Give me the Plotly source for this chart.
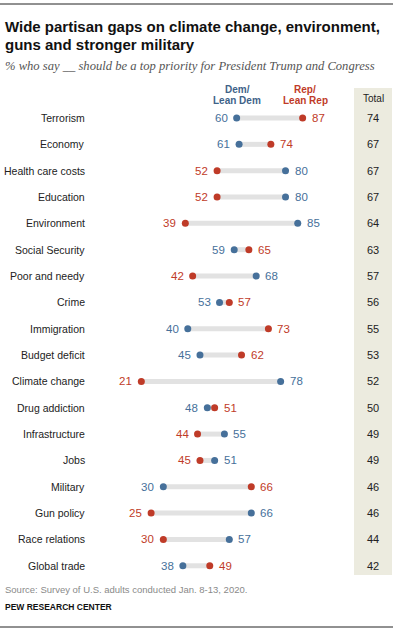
import plotly.graph_objects as go

categories = ["Terrorism", "Economy", "Health care costs", "Education", "Environment",
              "Social Security", "Poor and needy", "Crime", "Immigration", "Budget deficit",
              "Climate change", "Drug addiction", "Infrastructure", "Jobs", "Military",
              "Gun policy", "Race relations", "Global trade"]
dem = [60, 61, 80, 80, 85, 59, 68, 53, 40, 45, 78, 48, 55, 51, 30, 66, 57, 38]
rep = [87, 74, 52, 52, 39, 65, 42, 57, 73, 62, 21, 51, 44, 45, 66, 25, 30, 49]
total = [74, 67, 67, 67, 64, 63, 57, 56, 55, 53, 52, 50, 49, 49, 46, 46, 44, 42]

W, H = 399, 631
BLUE = "#46709a"
RED = "#bf3b28"
GRAY_BAR = "#e2e2e2"
BEIGE = "#ecebdf"
FONT = "Liberation Sans, Arial, sans-serif"

# pixel mapping: value 0 -> px 90, 2.444 px per unit; row 0 -> py 118, 26.34 px per row
PPU = 2.444
X0PX = 90
ROW0 = 118
ROWH = 26.34
xr = [-X0PX / PPU, (W - X0PX) / PPU]
yr = [(H - ROW0) / ROWH, -ROW0 / ROWH]


def px(p):
    return p / W


def py(p):
    return 1 - p / H


rows = list(range(len(categories)))

fig = go.Figure()

# gray connecting bars
bx, by = [], []
for i in rows:
    bx += [dem[i], rep[i], None]
    by += [i, i, None]
fig.add_trace(go.Scatter(x=bx, y=by, mode="lines",
                         line=dict(color=GRAY_BAR, width=5), hoverinfo="skip", showlegend=False))
fig.add_trace(go.Scatter(x=dem, y=rows, mode="markers", name="Dem/Lean Dem",
                         marker=dict(color=BLUE, size=7), showlegend=False))
fig.add_trace(go.Scatter(x=rep, y=rows, mode="markers", name="Rep/Lean Rep",
                         marker=dict(color=RED, size=7), showlegend=False))

ann = []
shapes = []

# total column background
shapes.append(dict(type="rect", xref="paper", yref="paper",
                   x0=px(354), x1=px(392), y0=py(575), y1=py(88),
                   fillcolor=BEIGE, line=dict(width=0), layer="below"))
# rules
shapes.append(dict(type="line", xref="paper", yref="paper", x0=0, x1=px(393),
                   y0=py(4), y1=py(4), line=dict(color="#222", width=1)))
shapes.append(dict(type="line", xref="paper", yref="paper", x0=0, x1=px(393),
                   y0=py(627), y1=py(627), line=dict(color="#222", width=1)))

for i in rows:
    ann.append(dict(x=px(87), xref="paper", y=i, yref="y", text=categories[i],
                    xanchor="right", yanchor="middle", showarrow=False,
                    font=dict(family=FONT, size=10.5, color="#222")))
    for val, other, col in ((dem[i], rep[i], BLUE), (rep[i], dem[i], RED)):
        left = val < other
        ann.append(dict(x=val, xref="x", y=i, yref="y", text=str(val),
                        xanchor="right" if left else "left", yanchor="middle",
                        xshift=-7 if left else 7, showarrow=False,
                        font=dict(family=FONT, size=11.5, color=col)))
    ann.append(dict(x=px(373), xref="paper", y=i, yref="y", text=str(total[i]),
                    xanchor="center", yanchor="middle", showarrow=False,
                    font=dict(family=FONT, size=11, color="#222")))

# headers
ann += [
    dict(x=px(237), y=py(90), text="<b>Dem/</b>", font=dict(family=FONT, size=10, color="#3e6288")),
    dict(x=px(237), y=py(100.5), text="<b>Lean Dem</b>", font=dict(family=FONT, size=10, color="#3e6288")),
    dict(x=px(305), y=py(90), text="<b>Rep/</b>", font=dict(family=FONT, size=10, color=RED)),
    dict(x=px(305), y=py(100.5), text="<b>Lean Rep</b>", font=dict(family=FONT, size=10, color=RED)),
    dict(x=px(373), y=py(99), text="Total", font=dict(family=FONT, size=10, color="#222")),
]
for a in ann[-5:]:
    a.update(xref="paper", yref="paper", xanchor="center", yanchor="middle", showarrow=False)

# title, subtitle, source
ann += [
    dict(x=px(3), y=py(26), text="<b>Wide partisan gaps on climate change, environment,</b>",
         font=dict(family=FONT, size=15, color="#111")),
    dict(x=px(3), y=py(45), text="<b>guns and stronger military</b>",
         font=dict(family=FONT, size=15, color="#111")),
    dict(x=px(3), y=py(66), text="<i>% who say __ should be a top priority for President Trump and Congress</i>",
         font=dict(family="Liberation Serif, Georgia, serif", size=12.6, color="#555")),
    dict(x=px(3), y=py(589), text="Source: Survey of U.S. adults conducted Jan. 8-13, 2020.",
         font=dict(family=FONT, size=9.5, color="#8a8a8a")),
    dict(x=px(3), y=py(607), text="<b>PEW RESEARCH CENTER</b>",
         font=dict(family=FONT, size=8.5, color="#111")),
]
for a in ann[-5:]:
    a.update(xref="paper", yref="paper", xanchor="left", yanchor="middle", showarrow=False)

fig.update_layout(
    width=W, height=H,
    margin=dict(l=0, r=0, t=0, b=0),
    paper_bgcolor="white", plot_bgcolor="white",
    xaxis=dict(range=xr, visible=False, fixedrange=True),
    yaxis=dict(range=yr, visible=False, fixedrange=True),
    annotations=ann, shapes=shapes,
    showlegend=False,
)

fig.write_html("out.html", config={"displayModeBar": False},
               post_script="document.body.style.margin='0';")
